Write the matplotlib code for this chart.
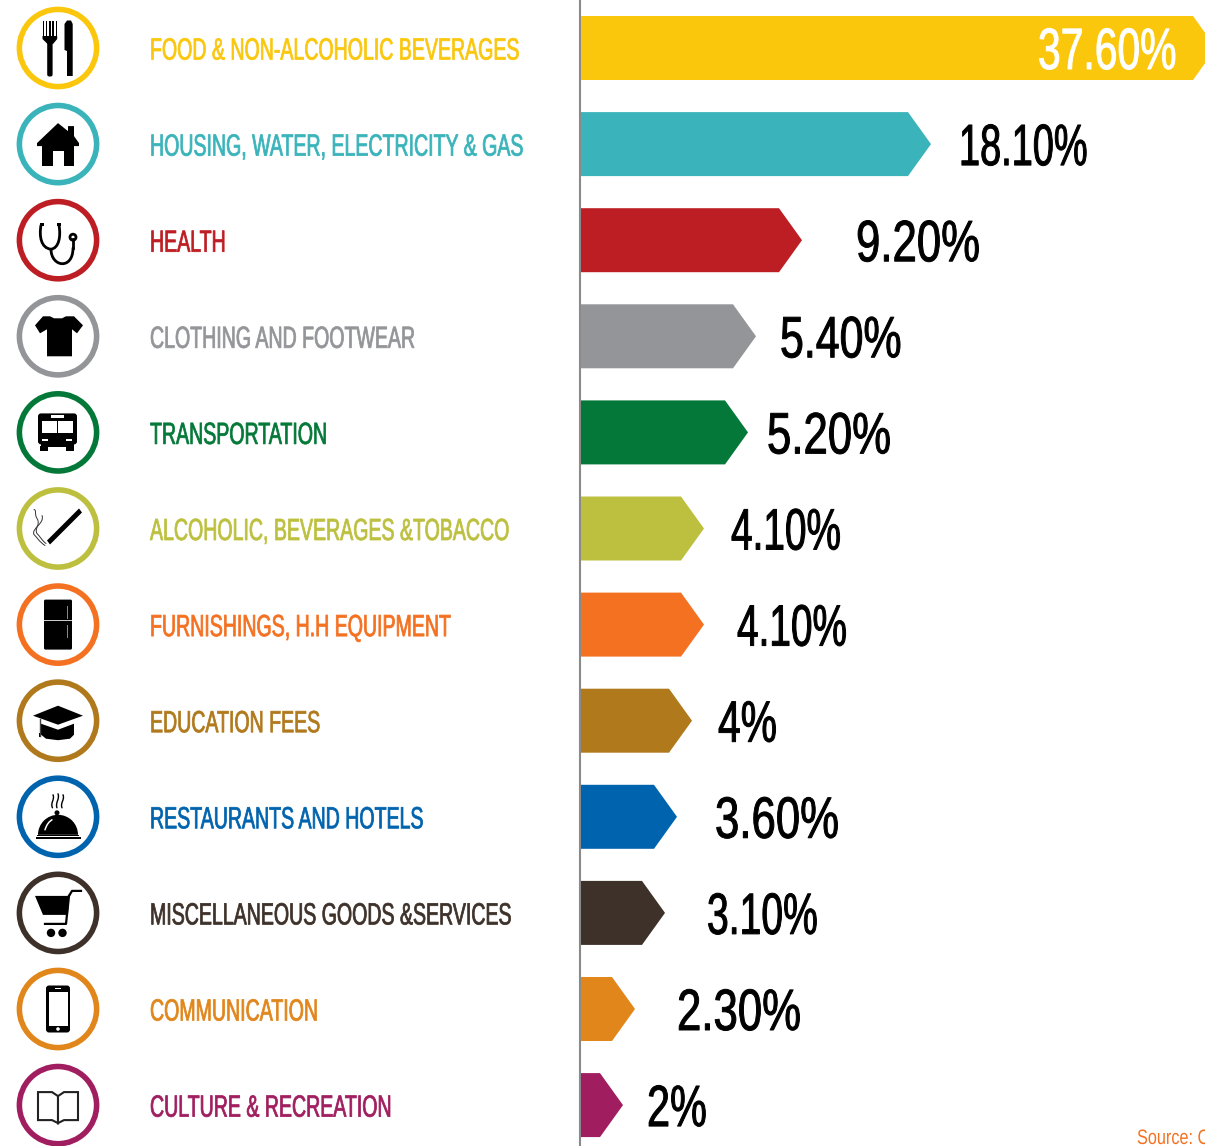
"""CPI basket weights drawn as arrow bars with round category icons."""

import matplotlib

matplotlib.use("Agg")
import matplotlib.pyplot as plt
from matplotlib.patches import Circle, FancyBboxPatch, PathPatch, Polygon, Rectangle, Wedge
from matplotlib.path import Path
from matplotlib.patheffects import AbstractPathEffect
from matplotlib.transforms import Affine2D

categories = [
    "FOOD & NON-ALCOHOLIC BEVERAGES",
    "HOUSING, WATER, ELECTRICITY & GAS",
    "HEALTH",
    "CLOTHING AND FOOTWEAR",
    "TRANSPORTATION",
    "ALCOHOLIC, BEVERAGES &TOBACCO",
    "FURNISHINGS, H.H EQUIPMENT",
    "EDUCATION FEES",
    "RESTAURANTS AND HOTELS",
    "MISCELLANEOUS GOODS &SERVICES",
    "COMMUNICATION",
    "CULTURE & RECREATION",
]
value_labels = ["37.60%", "18.10%", "9.20%", "5.40%", "5.20%", "4.10%",
                "4.10%", "4%", "3.60%", "3.10%", "2.30%", "2%"]
# the arrows are not to scale with the labels, so lengths are read off the picture
bar_lengths = [635, 350, 221, 175, 167, 123, 123, 111, 96, 84, 54, 42]
colors = ["#FAC70D", "#3AB4BA", "#BC1E24", "#939598", "#047838", "#BDC03F",
          "#F47122", "#B0791C", "#0063AE", "#3D3129", "#E1861B", "#A01E5F"]
value_x = [1038, 959, 856, 780, 767, 731, 737, 718, 715, 707, 677, 647]
# narrower 1s in the original face, so each value gets its own squeeze
value_squeeze = [0.70, 0.65, 0.75, 0.735, 0.75, 0.665, 0.665, 0.70, 0.75, 0.67, 0.75, 0.71]

ROW0 = 48.0
ROW_STEP = 96.1
BAR_X = 581
BAR_H = 64
TIP = 23
FONT = "Liberation Sans"


class Squeeze(AbstractPathEffect):
    """Narrow and slightly thicken text, no condensed display font is installed."""

    def __init__(self, sx, stroke=0.0):
        super().__init__()
        self.sx = sx
        self.stroke = stroke

    def draw_path(self, renderer, gc, tpath, affine, rgbFace=None):
        gc0 = renderer.new_gc()
        gc0.copy_properties(gc)
        gc0.set_linewidth(self.stroke)
        gc0.set_foreground(rgbFace)
        renderer.draw_path(gc0, tpath, Affine2D().scale(self.sx, 1) + affine, rgbFace)
        gc0.restore()


def poly(ax, cx, cy, pts, color="black"):
    ax.add_patch(Polygon([(cx + x, cy + y) for x, y in pts], closed=True, fc=color, ec="none"))


def rect(ax, cx, cy, x, y, w, h, color="black"):
    ax.add_patch(Rectangle((cx + x, cy + y), w, h, fc=color, ec="none"))


def dot(ax, cx, cy, x, y, r, color="black"):
    ax.add_patch(Circle((cx + x, cy + y), r, fc=color, ec="none"))


def curve(ax, cx, cy, pts, lw=1.0, color="black"):
    # pts: start point then cubic bezier triples
    codes = [Path.MOVETO] + [Path.CURVE4] * (len(pts) - 1)
    path = Path([(cx + x, cy + y) for x, y in pts], codes)
    ax.add_patch(PathPatch(path, fc="none", ec=color, lw=lw, capstyle="round"))


def rounded(ax, cx, cy, x, y, w, h, r, color="black"):
    ax.add_patch(FancyBboxPatch((cx + x + r, cy + y + r), w - 2 * r, h - 2 * r,
                                boxstyle=f"round,pad={r}", fc=color, ec="none"))


def icon_food(ax, cx, cy):
    for x in (-15.5, -12.2, -9, -5.7, -2.4):
        rect(ax, cx, cy, x, -27, 1.6, 16)
    poly(ax, cx, cy, [(-15.5, -12), (-0.8, -12), (-0.8, -9), (-5, -4), (-10.5, -4), (-15.5, -9)])
    rounded(ax, cx, cy, -10.8, -6, 5.4, 34.5, 2)
    poly(ax, cx, cy, [(6.5, -24), (9, -27.5), (13, -27.5), (14.7, -24), (14.7, 28), (9, 28), (9, 3), (6.5, 2)])


def icon_house(ax, cx, cy):
    poly(ax, cx, cy, [(0, -21), (10, -13), (10, -18), (16, -18), (16, -8), (21, -1), (21, 2), (-21, 2), (-21, -1)])
    rect(ax, cx, cy, -16, 1, 32, 20.5)
    rect(ax, cx, cy, -5.5, 7, 11, 14.5, "white")


def icon_health(ax, cx, cy):
    curve(ax, cx, cy, [(-17, -15), (-19, -4), (-17, 8), (-7, 9), (1, 8), (3, -4), (1, -15)], lw=2.0)
    curve(ax, cx, cy, [(-7, 9), (-7, 27), (15, 30), (15, 8)], lw=2.0)
    ax.plot([cx + 15, cx + 15], [cy + 8, cy - 1], color="black", lw=2.0)
    ax.add_patch(Circle((cx + 15, cy - 3), 3, fc="white", ec="black", lw=2.0))
    rect(ax, cx, cy, -18.5, -17, 4, 2.5)
    rect(ax, cx, cy, -1, -17, 4, 2.5)


def icon_shirt(ax, cx, cy):
    poly(ax, cx, cy, [(-8, -20), (-4, -18), (4, -18), (8, -20), (16, -20), (25, -11), (19, -3), (14, -7),
                      (14, 20), (-11, 20), (-11, -7), (-18, -3), (-23, -11), (-15, -20)])


def icon_bus(ax, cx, cy):
    rounded(ax, cx, cy, -20, -19, 39, 31, 3)
    rect(ax, cx, cy, -17, 10, 33, 5)
    rect(ax, cx, cy, -18, 14, 8, 5)
    rect(ax, cx, cy, 8, 14, 8, 5)
    rect(ax, cx, cy, -16, -11, 14.5, 12, "white")
    rect(ax, cx, cy, 0, -11, 14.5, 12, "white")
    rect(ax, cx, cy, -7, -17, 13, 2.5, "white")
    rect(ax, cx, cy, -16, 7, 6, 2, "white")
    rect(ax, cx, cy, 8, 7, 6, 2, "white")


def icon_cigarette(ax, cx, cy):
    poly(ax, cx, cy, [(-11, 12), (21, -20), (24, -16), (-8, 16)])
    curve(ax, cx, cy, [(-12, 15), (-16, 12), (-18, 8), (-21, 5), (-24, 0), (-17, -4), (-21, -10),
                       (-24, -15), (-21, -18), (-24, -19)], lw=0.7, color="#333333")
    curve(ax, cx, cy, [(-13, 17), (-19, 13), (-21, 9), (-24, 6), (-27, 0), (-13, -5), (-16, -13)],
          lw=0.7, color="#333333")


def icon_fridge(ax, cx, cy):
    rounded(ax, cx, cy, -14, -25, 28, 50, 1.5)
    rect(ax, cx, cy, -14, -4.5, 28, 1.2, "#cccccc")
    rect(ax, cx, cy, 9, -19, 1.2, 13, "#888888")
    rect(ax, cx, cy, 9, 0, 1.2, 13, "#888888")


def icon_cap(ax, cx, cy):
    poly(ax, cx, cy, [(-17, 3), (-17, 14), (-12, 18), (0, 19.5), (12, 18), (16, 14), (16, 3), (0, 9)])
    poly(ax, cx, cy, [(-25, -5), (0, -15), (25, -5), (0, 4)])
    ax.plot([cx - 18, cx - 18], [cy - 2, cy + 15], color="#444444", lw=1)
    rect(ax, cx, cy, -19, 12, 2, 4.5)


def icon_cloche(ax, cx, cy):
    ax.add_patch(Wedge((cx, cy + 18), 20, 180, 360, fc="black", ec="none"))
    rect(ax, cx, cy, -22.5, 20.5, 45, 1.5)
    rect(ax, cx, cy, -21, 18, 42, 1)
    dot(ax, cx, cy, -1, -4, 2.5)
    curve(ax, cx, cy, [(-5.5, -9), (-8, -14), (-3, -17), (-5, -22)], lw=1.0)
    curve(ax, cx, cy, [(-1, -9), (-3, -14), (2, -18), (0, -23)], lw=1.0)
    curve(ax, cx, cy, [(4, -9), (2, -14), (7, -17), (5, -22)], lw=1.0)
    curve(ax, cx, cy, [(-13, 13), (-11, 7), (-9, 5), (-6, 3)], lw=1.1, color="white")


def icon_cart(ax, cx, cy):
    poly(ax, cx, cy, [(-23, -17), (11, -17), (10, 2), (-15, 2)])
    ax.plot([cx + 11, cx + 14, cx + 23], [cy - 17, cy - 22, cy - 22], color="black", lw=1.6)
    ax.plot([cx + 11, cx + 8, cx - 13], [cy - 17, cy + 11, cy + 11], color="black", lw=1.6)
    dot(ax, cx, cy, -7, 20, 4.2)
    dot(ax, cx, cy, 4.5, 20, 4.2)


def icon_phone(ax, cx, cy):
    rounded(ax, cx, cy, -12, -23.5, 24, 47, 3)
    rect(ax, cx, cy, -9.5, -17.5, 19, 34, "white")
    dot(ax, cx, cy, 0, 20, 1.8, "white")
    rect(ax, cx, cy, -3, -21, 6, 0.8, "white")


def icon_book(ax, cx, cy):
    for s in (-1, 1):
        ax.add_patch(Polygon([(cx, cy - 9), (cx + s * 6, cy - 13), (cx + s * 20, cy - 13),
                              (cx + s * 20, cy + 15), (cx + s * 6, cy + 15), (cx, cy + 18)],
                             closed=True, fc="white", ec="#222222", lw=1.5))


icons = [icon_food, icon_house, icon_health, icon_shirt, icon_bus, icon_cigarette,
         icon_fridge, icon_cap, icon_cloche, icon_cart, icon_phone, icon_book]


def main():
    fig = plt.figure(figsize=(12.05, 11.46), dpi=100)
    ax = fig.add_axes([0, 0, 1, 1])
    ax.set_xlim(0, 1205)
    ax.set_ylim(1146, 0)
    ax.axis("off")

    ax.plot([580, 580], [0, 1146], color="#8a8a8a", lw=1.5, zorder=1)

    for i, name in enumerate(categories):
        y = ROW0 + ROW_STEP * i
        color = colors[i]

        ax.add_patch(Circle((58, y), 38.6, fc="white", ec=color, lw=4.0))
        icons[i](ax, 58, y)

        ax.text(150, y + 11.5, name, color=color, fontsize=22, family=FONT,
                ha="left", va="baseline", path_effects=[Squeeze(0.64, stroke=0.55)])

        end = BAR_X + bar_lengths[i]
        top, bottom = y - BAR_H / 2, y + BAR_H / 2
        ax.add_patch(Polygon([(BAR_X, top), (end - TIP, top), (end, y), (end - TIP, bottom), (BAR_X, bottom)],
                             closed=True, fc=color, ec="none", zorder=2))

        ax.text(value_x[i], y + 21, value_labels[i], color="white" if i == 0 else "black",
                fontsize=42, family=FONT, ha="left", va="baseline",
                path_effects=[Squeeze(value_squeeze[i], stroke=0.7)], zorder=3)

    ax.text(1137, 1144, "Source: C", color="#F47122", fontsize=15, family=FONT,
            ha="left", va="baseline", path_effects=[Squeeze(0.78)])

    fig.savefig("out.png", dpi=100, facecolor="white")


if __name__ == "__main__":
    main()
